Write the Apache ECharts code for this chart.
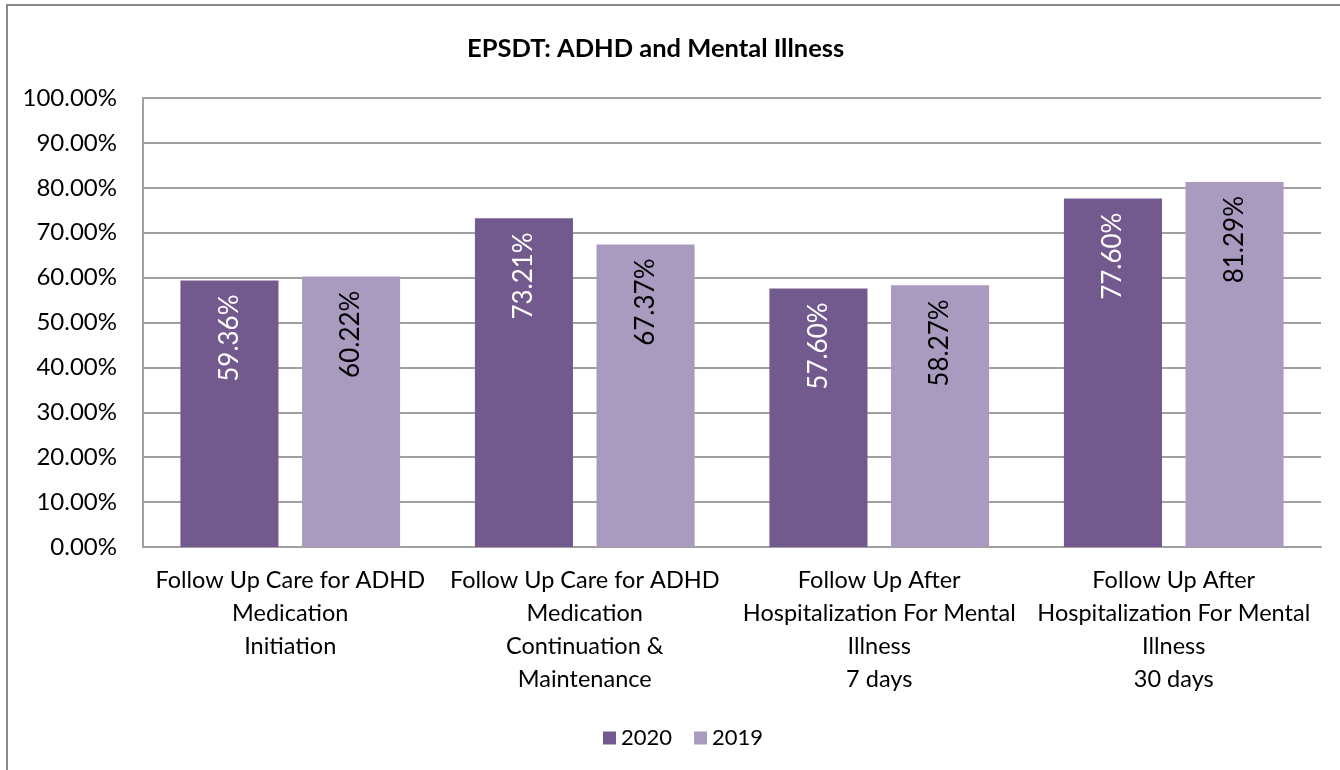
<!DOCTYPE html>
<html lang="en">
<head>
    <meta charset="UTF-8">
    <title>EPSDT: ADHD and Mental Illness</title>
    <script src="https://cdn.jsdelivr.net/npm/echarts@6/dist/echarts.min.js"></script>
    <style>
        html, body { margin: 0; padding: 0; background: #fff; }
        #chart { width: 1340px; height: 770px; }
    </style>
</head>
<body>
    <div id="chart"></div>
    <script>
        // categories (line breaks as in the original chart)
        let categories = [
            'Follow Up Care for ADHD\nMedication\nInitiation',
            'Follow Up Care for ADHD\nMedication\nContinuation &\nMaintenance',
            'Follow Up After\nHospitalization For Mental\nIllness\n7 days',
            'Follow Up After\nHospitalization For Mental\nIllness\n30 days'
        ];
        // values in percent
        let values2020 = [59.36, 73.21, 57.60, 77.60];
        let values2019 = [60.22, 67.37, 58.27, 81.29];
        let seriesNames = ['2020', '2019'];

        let font = 'Lato, "Noto Sans", sans-serif';

        // rotated value label just inside the bar top
        function barLabel(color) {
            return {
                show: true,
                position: 'insideTop',
                rotate: 90,
                align: 'right',
                verticalAlign: 'middle',
                distance: 14,
                color: color,
                fontSize: 26,
                fontFamily: font,
                formatter: function (p) { return p.value.toFixed(2) + '%'; }
            };
        }

        let chart = echarts.init(document.getElementById('chart'));
        chart.setOption({
            animation: false,
            title: {
                text: 'EPSDT: ADHD and Mental Illness',
                left: 462,
                top: 31,
                textStyle: { fontSize: 25.5, fontWeight: 'bold', color: '#000', fontFamily: font }
            },
            // outer chart frame
            graphic: [{
                type: 'rect',
                shape: { x: 7, y: 5, width: 1400, height: 800 },
                style: { fill: 'none', stroke: '#8a8a8a', lineWidth: 2 },
                silent: true
            }],
            legend: {
                data: seriesNames,
                top: 722,
                left: 598,
                icon: 'rect',
                itemWidth: 13,
                itemHeight: 13,
                itemGap: 22,
                textStyle: { fontSize: 22, color: '#000', fontFamily: font }
            },
            grid: { left: 143, right: 19, top: 98, bottom: 223 },
            xAxis: {
                type: 'category',
                data: categories,
                axisTick: { show: false },
                axisLine: { lineStyle: { color: '#a0a0a0', width: 2 } },
                axisLabel: {
                    interval: 0,
                    margin: 17,
                    fontSize: 23.5,
                    lineHeight: 33,
                    color: '#000',
                    fontFamily: font
                }
            },
            yAxis: {
                type: 'value',
                min: 0,
                max: 100,
                interval: 10,
                axisLine: { show: true, lineStyle: { color: '#a0a0a0', width: 2 } },
                axisTick: { show: false },
                splitLine: { lineStyle: { color: '#a0a0a0', width: 2 } },
                axisLabel: {
                    margin: 26,
                    fontSize: 24,
                    color: '#000',
                    fontFamily: font,
                    formatter: function (v) { return v.toFixed(2) + '%'; }
                }
            },
            series: [{
                name: '2020',
                type: 'bar',
                data: values2020,
                barWidth: '33.3%',
                barGap: '24%',
                itemStyle: { color: '#735a8e' },
                label: barLabel('#ffffff')
            }, {
                name: '2019',
                type: 'bar',
                data: values2019,
                barWidth: '33.3%',
                itemStyle: { color: '#a99bc0' },
                label: barLabel('#000000')
            }]
        });
    </script>
</body>
</html>
